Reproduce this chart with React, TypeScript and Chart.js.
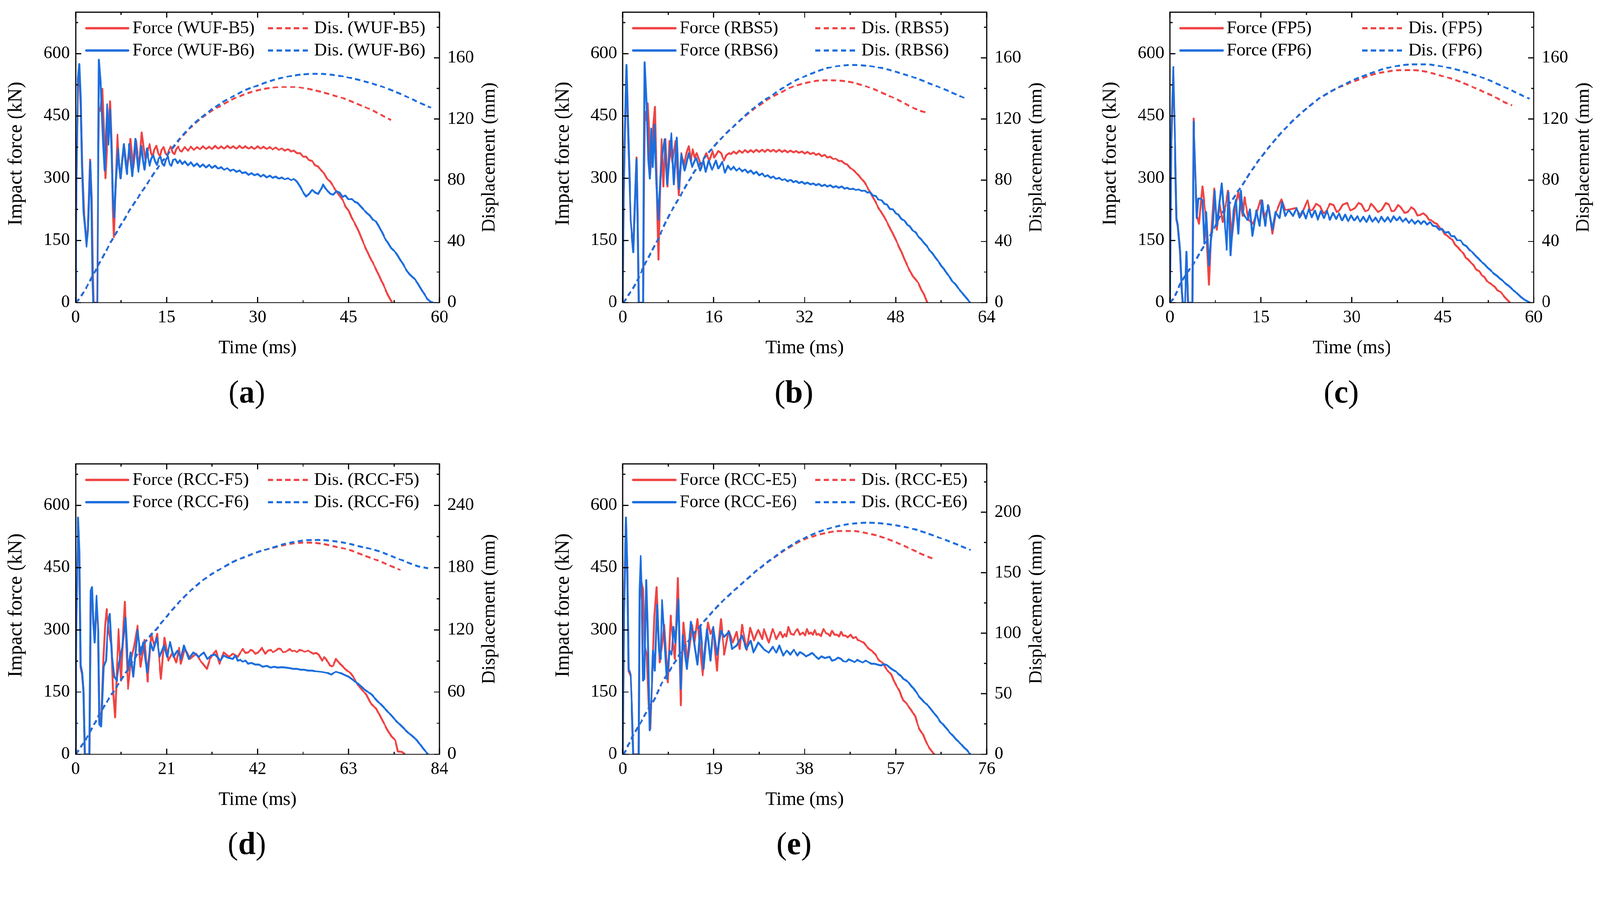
import { useEffect, useRef } from "react";
import { Chart, registerables } from "chart.js";

Chart.register(...registerables);

type Pt = [number, number];

const RED = "#f04444";
const BLUE = "#1c6edd";
const FONT = "'Liberation Serif', 'Times New Roman', serif";

// ---------- (a) WUF-B5 / WUF-B6 ----------
const forceWUFB5: Pt[] = [
  [0, 0], [0.15, 280], [0.4, 530], [0.6, 565], [0.85, 470], [1.1, 320], [1.4, 210], [1.8, 140], [2.1, 200],
  [2.4, 345], [2.65, 250], [2.85, 60], [2.95, 0], [3.55, 0], [3.7, 300], [3.85, 470], [4.1, 462], [4.4, 515],
  [4.65, 420], [4.9, 300], [5.2, 390], [5.45, 430], [5.7, 485], [5.95, 380], [6.15, 220], [6.3, 158], [6.5, 250],
  [6.9, 405], [7.15, 340], [7.4, 300], [7.7, 345], [8.0, 375], [8.25, 345], [8.5, 320], [8.8, 355], [9.05, 395],
  [9.3, 355], [9.5, 325], [9.75, 360], [9.95, 390], [10.2, 355], [10.45, 330], [10.7, 370], [10.9, 410], [11.2, 375],
  [11.5, 345], [11.85, 365], [12.2, 382], [12.45, 360], [12.7, 352], [13.0, 370], [13.3, 378], [13.6, 360], [13.9, 352],
  [14.2, 368], [14.5, 375], [14.8, 360], [15.1, 355], [15.4, 368], [15.7, 376], [16.0, 362], [16.3, 358], [16.6, 370],
  [16.9, 376], [17.2, 366], [17.5, 364], [18, 375], [18.5, 366], [19, 376], [19.5, 368], [20, 375], [20.5, 369],
  [21, 377], [21.5, 370], [22, 376], [22.5, 370], [23, 378], [23.5, 371], [24, 377], [24.5, 371], [25, 378],
  [25.5, 372], [26, 377], [26.5, 371], [27, 378], [27.5, 372], [28, 377], [28.5, 371], [29, 376], [29.5, 370],
  [30, 377], [30.5, 371], [31, 376], [31.5, 370], [32, 375], [32.5, 369], [33, 374], [33.5, 368], [34, 372],
  [34.5, 366], [35, 370], [35.5, 364], [36, 366], [36.5, 360], [37, 360], [37.5, 352], [38, 352], [38.5, 343],
  [39, 341], [39.5, 331], [40, 328], [40.5, 318], [41, 311], [41.5, 298], [42, 291], [42.5, 280], [43, 268],
  [43.5, 258], [44, 248], [44.5, 232], [45, 222], [45.5, 205], [46, 192], [46.5, 178], [47, 160], [47.5, 142],
  [48, 126], [48.5, 110], [49, 96], [49.5, 82], [50, 66], [50.5, 50], [51, 35], [51.5, 18], [52, 5], [52.2, 0],
];
const forceWUFB6: Pt[] = [
  [0, 0], [0.15, 300], [0.4, 540], [0.62, 575], [0.85, 490], [1.05, 330], [1.3, 218], [1.55, 180], [1.8, 135],
  [2.05, 175], [2.25, 260], [2.42, 340], [2.6, 250], [2.78, 60], [2.9, 0], [3.6, 0], [3.72, 300], [3.85, 585],
  [4.12, 533], [4.31, 464], [4.55, 380], [4.78, 318], [5.0, 400], [5.2, 478], [5.42, 381], [5.7, 465], [5.95, 360],
  [6.15, 250], [6.35, 205], [6.6, 290], [7.0, 372], [7.2, 330], [7.45, 300], [7.7, 345], [7.95, 382], [8.2, 340],
  [8.45, 310], [8.65, 350], [8.85, 382], [9.1, 340], [9.35, 305], [9.6, 350], [9.85, 395], [10.1, 350], [10.35, 315],
  [10.6, 345], [10.85, 378], [11.1, 345], [11.35, 320], [11.55, 345], [11.75, 372], [12.0, 345], [12.2, 330],
  [12.5, 348], [12.8, 355], [13.1, 340], [13.4, 332], [13.7, 348], [14.0, 352], [14.3, 335], [14.6, 330], [14.9, 345],
  [15.2, 352], [15.5, 334], [15.8, 330], [16.1, 344], [16.4, 346], [16.8, 336], [17.2, 343], [17.6, 334], [18, 340],
  [18.5, 331], [19, 338], [19.5, 329], [20, 335], [20.5, 327], [21, 333], [21.5, 326], [22, 332], [22.5, 325],
  [23, 330], [23.5, 323], [24, 327], [24.5, 320], [25, 324], [25.5, 317], [26, 321], [26.5, 315], [27, 318],
  [27.5, 312], [28, 314], [28.5, 308], [29, 312], [29.5, 307], [30, 310], [30.5, 304], [31, 308], [31.5, 302],
  [32, 306], [32.5, 301], [33, 304], [33.5, 299], [34, 302], [34.5, 297], [35, 300], [35.5, 295], [36, 298],
  [36.5, 291], [37, 280], [37.5, 266], [38, 256], [38.5, 262], [39, 272], [39.5, 265], [40, 262], [40.5, 275],
  [40.8, 285], [41.2, 276], [41.6, 268], [42, 262], [42.5, 260], [43, 268], [43.5, 265], [44, 255], [44.5, 258],
  [45, 249], [45.5, 250], [46, 243], [46.5, 240], [47, 232], [47.5, 224], [48, 216], [48.5, 210], [49, 200],
  [49.5, 196], [50, 184], [50.5, 170], [51, 155], [51.5, 144], [52, 132], [52.5, 125], [53, 116], [53.5, 104],
  [54, 92], [54.5, 80], [55, 69], [55.5, 62], [56, 56], [56.5, 44], [57, 32], [57.5, 20], [58, 9], [58.5, 3], [59, 0],
];
const disWUFB5: Pt[] = [
  [0, 0], [0.5, 2], [1.5, 8], [3, 19], [4.5, 30], [6, 41], [7.5, 51], [9, 61], [10.5, 70], [12, 79], [13.5, 88],
  [15, 96], [16.5, 103.5], [18, 110.5], [19.5, 116.5], [21, 121.5], [22.5, 125.5], [24, 129], [26, 133.2],
  [28, 136.5], [30, 138.8], [32, 140.3], [34, 141], [36, 141], [38, 140], [40, 138.3], [42, 136.2], [44, 133.8],
  [46, 130.7], [48, 127.4], [50, 123.6], [52, 119.3],
];
const disWUFB6: Pt[] = [
  [0, 0], [0.5, 2], [1.5, 8], [3, 19], [4.5, 30], [6, 41], [7.5, 51], [9, 61], [10.5, 70], [12, 79], [13.5, 88],
  [15, 96], [16.5, 104], [18, 111], [19.5, 117], [21, 122], [22.5, 126.5], [24, 130.5], [26, 135], [28, 139],
  [30, 142], [32, 144.8], [34, 147], [36, 148.6], [38, 149.5], [40, 149.7], [42, 149.2], [44, 148], [46, 146.3],
  [48, 144.3], [50, 142], [52, 139], [54, 135.8], [56, 132], [58.6, 127.5],
];

// ---------- (b) RBS5 / RBS6 ----------
const forceRBS5: Pt[] = [
  [0, 0], [0.15, 240], [0.33, 380], [0.65, 560], [1.0, 380], [1.4, 195], [1.86, 125], [2.1, 225], [2.42, 350],
  [2.6, 205], [2.8, 0], [3.6, 0], [3.75, 300], [3.9, 460], [4.1, 440], [4.37, 480], [4.6, 420], [4.85, 310],
  [5.1, 360], [5.35, 420], [5.67, 472], [5.9, 330], [6.1, 200], [6.27, 104], [6.5, 250], [6.83, 394], [7.16, 280],
  [7.5, 394], [7.85, 280], [8.2, 389], [8.7, 337], [9.3, 389], [9.85, 259], [10.3, 360], [10.8, 332], [11.2, 360],
  [11.6, 377], [12.0, 342], [12.3, 370], [12.65, 350], [13.0, 360], [13.4, 345], [13.8, 327], [14.2, 345],
  [14.7, 360], [15.2, 342], [15.8, 365], [16.1, 350], [16.4, 356], [16.8, 365], [17.3, 360], [17.8, 342],
  [18.2, 355], [18.7, 360], [19, 358], [19.5, 364], [20, 359], [20.5, 366], [21, 361], [21.5, 367], [22, 362],
  [22.5, 367], [23, 362], [23.5, 368], [24, 363], [24.5, 368], [25, 363], [25.5, 369], [26, 364], [26.5, 368],
  [27, 363], [27.5, 368], [28, 363], [28.5, 367], [29, 362], [29.5, 366], [30, 362], [30.5, 365], [31, 361],
  [31.5, 364], [32, 359], [32.5, 363], [33, 358], [33.5, 361], [34, 356], [34.5, 359], [35, 353], [35.5, 356],
  [36, 350], [36.5, 352], [37, 346], [37.5, 347], [38, 341], [38.5, 341], [39, 335], [39.5, 333], [40, 325],
  [40.5, 320], [41, 313], [41.5, 307], [42, 298], [42.5, 290], [43, 279], [43.5, 266], [44, 254], [44.5, 241],
  [45, 228], [45.5, 217], [46, 206], [46.5, 193], [47, 180], [47.5, 166], [48, 152], [48.5, 137], [49, 123],
  [49.5, 106], [50, 90], [50.5, 77], [51, 64], [51.5, 56], [52, 47], [52.5, 32], [53, 19], [53.4, 5], [53.6, 0],
];
const forceRBS6: Pt[] = [
  [0, 0], [0.15, 250], [0.33, 389], [0.65, 573], [1.0, 389], [1.4, 199], [1.86, 121], [2.1, 220], [2.42, 346],
  [2.6, 200], [2.8, 0], [3.6, 0], [3.7, 300], [3.85, 579], [4.2, 474], [4.5, 342], [4.74, 299], [5.0, 420],
  [5.3, 327], [5.58, 429], [5.9, 294], [6.25, 200], [6.6, 300], [7.0, 360], [7.4, 394], [7.8, 285], [8.2, 350],
  [8.55, 408], [9.0, 285], [9.5, 398], [9.85, 275], [10.3, 358], [10.9, 318], [11.6, 360], [12.2, 327], [12.9, 349],
  [13.6, 318], [14.2, 342], [14.6, 315], [15.1, 342], [15.7, 320], [16.4, 342], [16.8, 323], [17.5, 339],
  [18.0, 313], [18.5, 330], [19, 320], [19.5, 328], [20, 318], [20.5, 324], [21, 316], [21.5, 321], [22, 313],
  [22.5, 318], [23, 310], [23.5, 315], [24, 307], [24.5, 311], [25, 304], [25.5, 307], [26, 301], [26.5, 304],
  [27, 298], [27.5, 301], [28, 295], [28.5, 298], [29, 292], [29.5, 296], [30, 290], [30.5, 293], [31, 288],
  [31.5, 291], [32, 286], [32.5, 289], [33, 285], [33.5, 287], [34, 283], [34.5, 286], [35, 281], [35.5, 284],
  [36, 280], [36.5, 283], [37, 278], [37.5, 281], [38, 277], [38.5, 280], [39, 275], [39.5, 277], [40, 273],
  [40.5, 275], [41, 271], [41.5, 273], [42, 269], [42.5, 270], [43, 265], [43.5, 266], [44, 258], [44.5, 257],
  [45, 248], [45.5, 247], [46, 238], [46.5, 236], [47, 226], [47.5, 225], [48, 215], [48.5, 212], [49, 202],
  [49.5, 198], [50, 188], [50.5, 184], [51, 174], [51.5, 169], [52, 159], [52.5, 153], [53, 143], [53.5, 136],
  [54, 126], [54.5, 118], [55, 108], [55.5, 100], [56, 89], [56.5, 81], [57, 70], [57.5, 62], [58, 51], [58.5, 44],
  [59, 35], [59.5, 27], [60, 18], [60.5, 10], [61, 2], [61.2, 0],
];
const disRBS5: Pt[] = [
  [0, 0], [0.3, 1], [1, 5], [2, 10.5], [3, 18], [4, 26], [5, 33], [6, 40], [8, 56], [10, 69], [12, 82], [14, 93],
  [16, 102], [18, 110], [20, 117], [22, 123.5], [24, 129], [26, 134], [28, 137.8], [30, 141.4], [32, 143.5],
  [34, 145], [36, 145.4], [38, 145.2], [40, 144.3], [42, 142.4], [44, 139.8], [46, 136.6], [48, 133.3], [50, 129.5],
  [52, 125.8], [53.2, 124.5],
];
const disRBS6: Pt[] = [
  [0, 0], [0.3, 1], [1, 5], [2, 10.5], [3, 18], [4, 26], [5, 33], [6, 40], [8, 56], [10, 69], [12, 82], [14, 93],
  [16, 102], [18, 110], [20, 117], [22, 124], [24, 130], [26, 135], [28, 140], [30, 144.5], [32, 148], [34, 151],
  [36, 153.4], [38, 154.8], [40, 155.5], [42, 155.3], [44, 154.4], [46, 153], [48, 151], [50, 148.8], [52, 146.2],
  [54, 143.3], [56, 140.4], [58, 137.2], [60, 134], [60.6, 132.8],
];

// ---------- (c) FP5 / FP6 ----------
const forceFP5: Pt[] = [
  [0, 0], [0.2, 380], [0.57, 560], [0.78, 430], [1.09, 200], [1.3, 185], [1.66, 125], [1.96, 25], [2.1, 0],
  [2.5, 0], [2.75, 118], [3.0, 0], [3.7, 0], [3.9, 444], [4.15, 330], [4.45, 210], [4.8, 190], [5.1, 240],
  [5.36, 280], [5.8, 223], [6.1, 150], [6.45, 43], [6.75, 152], [7.3, 275], [7.76, 176], [8.2, 237], [8.7, 194],
  [9.6, 270], [10.2, 157], [10.7, 223], [11.3, 266], [12.0, 209], [12.3, 254], [13.0, 199], [13.7, 190],
  [14.3, 215], [14.95, 247], [15.5, 204], [16.3, 232], [16.9, 166], [17.4, 213], [18.4, 249], [19.0, 223],
  [19.8, 225], [20.7, 228], [21.6, 209], [22.2, 230], [22.7, 247], [23.1, 222], [23.5, 223], [24.1, 238],
  [24.8, 232], [25.3, 215], [25.7, 218], [26.4, 238], [27.0, 235], [27.5, 218], [27.9, 221], [28.5, 236],
  [29.2, 240], [29.8, 222], [30.5, 228], [31.1, 240], [31.6, 237], [32.2, 220], [32.7, 223], [33.2, 238],
  [33.6, 232], [34.3, 218], [34.9, 223], [35.6, 240], [36.1, 236], [36.6, 220], [37.0, 221], [37.6, 235],
  [38.1, 230], [38.7, 216], [39.2, 218], [39.8, 230], [40.3, 225], [40.8, 210], [41.2, 211], [41.8, 215],
  [42.3, 209], [42.7, 200], [43.1, 199], [43.6, 192], [44.0, 190], [44.5, 180], [44.9, 176], [45.3, 165],
  [45.75, 161], [46.2, 155], [46.6, 152], [47.0, 140], [47.5, 133], [48.0, 124], [48.4, 119], [48.8, 108],
  [49.2, 104], [49.7, 95], [50.1, 90], [50.5, 80], [51.0, 76], [51.4, 66], [51.85, 62], [52.3, 52], [52.7, 47],
  [53.2, 42], [53.6, 38], [54.0, 30], [54.5, 26], [55.0, 17], [55.3, 12], [55.7, 6], [56.1, 0],
];
const forceFP6: Pt[] = [
  [0, 0], [0.2, 389], [0.57, 568], [0.78, 436], [1.09, 204], [1.3, 187], [1.66, 128], [1.96, 28], [2.1, 0],
  [2.5, 0], [2.75, 123], [3.0, 0], [3.7, 0], [3.92, 436], [4.14, 342], [4.44, 204], [4.7, 251], [5.05, 251],
  [5.36, 247], [5.66, 142], [6.0, 218], [6.45, 90], [6.75, 150], [7.06, 185], [7.4, 270], [7.76, 185], [8.1, 230],
  [8.54, 287], [9.0, 200], [9.37, 128], [9.67, 266], [10.0, 114], [10.5, 223], [10.9, 249], [11.3, 166],
  [11.7, 270], [12.0, 218], [12.3, 209], [12.85, 199], [13.2, 225], [13.6, 161], [14.25, 223], [14.8, 185],
  [15.2, 247], [15.7, 185], [16.2, 235], [16.9, 176], [17.4, 218], [18.1, 204], [18.5, 242], [19.0, 209],
  [19.6, 223], [20.3, 209], [20.9, 228], [21.4, 205], [21.9, 222], [22.4, 203], [22.9, 225], [23.4, 206],
  [23.9, 222], [24.4, 200], [24.9, 220], [25.4, 204], [25.9, 221], [26.4, 200], [26.9, 216], [27.4, 202],
  [27.9, 215], [28.4, 198], [28.9, 212], [29.4, 196], [29.9, 210], [30.4, 198], [30.9, 208], [31.4, 195],
  [31.9, 207], [32.4, 194], [32.9, 210], [33.4, 195], [33.9, 205], [34.4, 193], [34.9, 207], [35.4, 195],
  [35.9, 206], [36.4, 194], [36.9, 208], [37.4, 198], [37.9, 207], [38.4, 195], [38.9, 203], [39.4, 192],
  [39.9, 200], [40.4, 190], [40.9, 198], [41.4, 189], [41.9, 197], [42.4, 188], [42.9, 194], [43.4, 185],
  [43.9, 184], [44.4, 176], [44.9, 178], [45.4, 168], [45.9, 170], [46.4, 160], [46.9, 160], [47.4, 150],
  [47.9, 150], [48.4, 140], [48.9, 136], [49.4, 127], [49.9, 121], [50.4, 113], [50.9, 106], [51.4, 98],
  [51.9, 92], [52.4, 84], [52.9, 78], [53.4, 70], [53.9, 65], [54.4, 58], [54.9, 53], [55.4, 45], [55.9, 40],
  [56.4, 33], [56.9, 27], [57.4, 20], [57.9, 13], [58.4, 8], [58.9, 4], [59.4, 0],
];
const disFP5: Pt[] = [
  [0, 0], [0.87, 4.5], [1.74, 12.5], [3.27, 22], [4.36, 28.3], [5.0, 33], [7.0, 46.4], [8.3, 56.7], [10.0, 65.7],
  [12.0, 77.3], [13.9, 88.9], [16.1, 100.5], [18.3, 110.8], [20.5, 119.8], [22.7, 127.5], [24.8, 134],
  [27.0, 139], [29.2, 143], [31.4, 146.2], [33.6, 149.4], [35.7, 151], [37.9, 152], [40.1, 152], [42.3, 151],
  [44.4, 148.8], [46.6, 146.2], [48.8, 143], [51.0, 139.1], [53.2, 135.3], [55.0, 131.4], [56.4, 129.1],
];
const disFP6: Pt[] = [
  [0, 0], [0.87, 4.5], [1.74, 12.5], [3.27, 22], [4.36, 28.3], [5.0, 33], [7.0, 46.4], [8.3, 56.7], [10.0, 65.7],
  [12.0, 77.3], [13.9, 88.9], [16.1, 100.5], [18.3, 110.8], [20.5, 119.8], [22.7, 127.5], [24.8, 134],
  [27.0, 139.1], [29.2, 143.6], [31.4, 147.5], [33.6, 150.7], [35.7, 153.3], [37.9, 155.1], [40.1, 155.9],
  [42.3, 155.9], [44.4, 154.8], [46.6, 153], [48.8, 150.7], [51.0, 147.9], [53.2, 144.5], [55.3, 140.7],
  [57.5, 136.6], [59.3, 133.3],
];

// ---------- (d) RCC-F5 / RCC-F6 ----------
const forceRCCF5: Pt[] = [
  [0, 0], [0.17, 290], [0.58, 560], [0.87, 480], [1.16, 210], [1.5, 192], [1.8, 150], [2.1, 0], [3.2, 0],
  [3.5, 380], [3.78, 395], [4.07, 315], [4.4, 275], [4.83, 370], [5.24, 290], [5.5, 80], [5.9, 75], [6.4, 230],
  [6.8, 310], [7.16, 350], [7.6, 300], [7.9, 285], [8.3, 260], [8.6, 160], [9.1, 89], [9.5, 200], [9.9, 302],
  [10.5, 178], [11.0, 300], [11.35, 367], [11.7, 260], [12.1, 158], [12.8, 230], [13.5, 260], [14.3, 310],
  [15.0, 211], [15.9, 276], [16.6, 175], [17.5, 290], [18.2, 260], [18.8, 290], [19.7, 182], [20.5, 281],
  [21.4, 226], [22.4, 245], [23.2, 221], [23.9, 257], [24.3, 218], [25.2, 254], [26.4, 230], [27.8, 242],
  [29.0, 223], [30.3, 206], [31.0, 230], [32.4, 250], [33.2, 218], [34.2, 245], [35.4, 235], [36.3, 242],
  [37.4, 235], [38.6, 254], [39.2, 244], [39.8, 245], [40.4, 252], [40.9, 250], [41.5, 242], [42.1, 245],
  [43.0, 257], [43.8, 242], [44.4, 250], [45.0, 252], [45.6, 246], [46.2, 250], [46.8, 255], [47.3, 254],
  [47.9, 246], [48.5, 247], [49.4, 254], [50.0, 248], [50.5, 250], [51.1, 246], [51.7, 252], [52.3, 250],
  [52.9, 247], [53.7, 250], [54.3, 245], [54.9, 242], [55.5, 244], [56.1, 240], [56.9, 226], [57.4, 234],
  [57.8, 230], [58.7, 214], [59.1, 212], [59.5, 214], [60.1, 230], [61.0, 218], [62.2, 206], [63.3, 197],
  [64.2, 185], [65.1, 168], [65.9, 158], [67.1, 144], [68.3, 120], [69.4, 110], [70.6, 86], [71.8, 62],
  [72.9, 43], [73.8, 34], [74.4, 7], [75.3, 6], [76.1, 0],
];
const forceRCCF6: Pt[] = [
  [0, 0], [0.17, 298], [0.58, 571], [0.87, 490], [1.16, 216], [1.5, 197], [1.8, 154], [2.1, 0], [3.2, 0],
  [3.5, 394], [3.78, 403], [4.07, 322], [4.37, 269], [4.83, 382], [5.24, 298], [5.5, 72], [5.9, 67], [6.46, 211],
  [7.0, 226], [7.45, 312], [7.9, 338], [8.4, 235], [8.9, 187], [9.5, 178], [10.07, 221], [10.8, 259], [11.5, 329],
  [12.1, 202], [12.7, 245], [13.3, 187], [14.3, 300], [15.0, 240], [15.6, 269], [16.5, 197], [17.3, 269],
  [17.9, 250], [18.7, 281], [19.4, 235], [20.4, 262], [21.1, 235], [21.8, 271], [22.6, 235], [23.5, 250],
  [24.3, 230], [25.0, 262], [26.1, 230], [27.2, 245], [28.4, 235], [29.6, 245], [30.4, 230], [31.3, 238],
  [32.2, 240], [33.4, 226], [34.2, 238], [35.1, 233], [36.3, 230], [36.9, 238], [37.4, 226], [38.0, 228],
  [38.6, 223], [39.2, 226], [39.8, 218], [40.6, 220], [41.5, 216], [42.3, 216], [43.2, 211], [44.1, 213],
  [45.0, 209], [45.8, 211], [46.7, 209], [47.6, 210], [48.5, 209], [49.3, 208], [50.2, 206], [51.1, 206],
  [52.0, 204], [52.8, 204], [53.7, 202], [54.6, 202], [55.5, 200], [56.3, 199], [57.2, 198], [58.1, 196],
  [59.0, 192], [59.6, 196], [60.1, 199], [61.0, 196], [61.9, 192], [63.0, 187], [64.2, 178], [65.4, 168],
  [66.5, 158], [68.3, 144], [70.0, 125], [71.8, 106], [73.5, 86], [75.3, 67], [77.0, 50], [78.8, 34],
  [80.2, 14], [81.4, 0],
];
const disRCCF5: Pt[] = [
  [0, 0], [0.2, 1], [1.3, 7.7], [2.5, 15.4], [4.25, 28.8], [6.0, 42.2], [7.7, 53.8], [10.1, 69.1], [13.0, 88.3],
  [15.9, 107.5], [18.8, 121.5], [21.7, 136.3], [24.6, 149.8], [27.5, 161.3], [30.4, 170.9], [33.4, 178.6],
  [36.3, 185.3], [39.2, 190.5], [42.1, 195], [45.0, 198.5], [47.9, 201.5], [50.8, 203.5], [53.7, 204],
  [56.6, 203.1], [59.5, 200.6], [62.5, 197.8], [65.4, 193.5], [68.3, 189.1], [71.2, 184.3], [75.0, 177.6],
];
const disRCCF6: Pt[] = [
  [0, 0], [0.2, 1], [1.3, 7.7], [2.5, 15.4], [4.25, 28.8], [6.0, 42.2], [7.7, 53.8], [10.1, 69.1], [13.0, 88.3],
  [15.9, 107.5], [18.8, 121.5], [21.7, 136.3], [24.6, 149.8], [27.5, 161.3], [30.4, 170.9], [33.4, 178.6],
  [36.3, 185.3], [39.2, 190.5], [42.1, 195], [45.0, 198.7], [47.9, 202.4], [50.8, 204.8], [53.7, 206.3],
  [56.6, 206.4], [59.5, 205.4], [62.5, 203.5], [65.4, 200.6], [68.3, 197.8], [71.2, 193.9], [74.1, 189.1],
  [77.0, 184.3], [79.3, 181], [81.4, 179.5],
];

// ---------- (e) RCC-E5 / RCC-E6 ----------
const forceRCCE5: Pt[] = [
  [0, 0], [0.28, 340], [0.66, 560], [0.94, 435], [1.2, 200], [1.66, 188], [1.93, 104], [2.2, 0], [3.3, 0],
  [3.5, 370], [3.8, 420], [4.25, 398], [4.6, 260], [5.0, 240], [5.4, 120], [5.8, 62], [6.2, 200], [6.6, 330],
  [7.06, 403], [7.4, 300], [7.7, 221], [8.2, 260], [8.66, 312], [9.0, 250], [9.4, 173], [10.0, 334], [10.5, 270],
  [10.9, 230], [11.2, 320], [11.5, 425], [11.8, 280], [12.1, 118], [12.4, 220], [12.7, 317], [13.5, 221],
  [14.5, 312], [15.0, 270], [15.6, 326], [16.1, 260], [16.7, 190], [17.2, 260], [17.8, 317], [18.3, 290],
  [18.9, 307], [19.3, 250], [19.7, 202], [20.1, 280], [20.5, 326], [21.2, 240], [22.1, 298], [23.0, 269],
  [23.8, 295], [24.4, 254], [24.9, 312], [25.9, 252], [26.6, 305], [27.4, 274], [28.3, 300], [29.1, 278],
  [29.5, 302], [30.5, 269], [31.3, 302], [32.1, 278], [32.9, 295], [33.4, 282], [33.8, 290], [34.2, 284],
  [34.6, 307], [35.1, 290], [35.7, 288], [36.1, 296], [36.5, 302], [37.0, 288], [37.6, 293], [38.1, 286],
  [38.5, 302], [38.9, 290], [39.3, 293], [39.7, 288], [40.1, 300], [40.5, 288], [40.9, 290], [41.4, 285],
  [41.9, 302], [42.4, 292], [42.9, 290], [43.3, 285], [43.7, 298], [44.2, 288], [44.8, 288], [45.2, 284],
  [45.6, 295], [46.0, 286], [46.5, 286], [47.0, 282], [47.6, 288], [48.1, 280], [48.7, 283], [49.1, 276],
  [49.5, 274], [49.9, 271], [50.3, 269], [50.8, 262], [51.2, 257], [51.6, 253], [52.0, 250], [52.4, 244],
  [52.8, 240], [53.2, 232], [53.6, 226], [54.1, 222], [54.5, 216], [54.9, 208], [55.3, 202], [55.7, 197],
  [56.1, 192], [56.6, 178], [57.0, 168], [57.4, 160], [57.8, 154], [58.2, 140], [58.6, 130], [59.0, 126],
  [59.4, 120], [59.9, 112], [60.3, 106], [60.7, 98], [61.1, 91], [61.5, 75], [61.9, 62], [62.3, 55], [62.7, 48],
  [63.2, 34], [63.6, 24], [64.0, 16], [64.4, 10], [64.8, 4], [65.1, 0],
];
const forceRCCE6: Pt[] = [
  [0, 0], [0.28, 346], [0.66, 571], [0.94, 442], [1.2, 206], [1.66, 192], [1.93, 106], [2.2, 0], [3.3, 0],
  [3.5, 394], [3.75, 478], [3.97, 394], [4.25, 178], [4.5, 182], [4.9, 420], [5.2, 298], [5.6, 58], [5.96, 130],
  [6.35, 250], [6.7, 202], [7.17, 360], [7.56, 250], [7.9, 230], [8.2, 372], [8.66, 288], [9.2, 182], [9.77, 250],
  [10.2, 240], [10.6, 307], [11.0, 269], [11.6, 374], [12.1, 158], [12.5, 288], [13.4, 206], [14.2, 319],
  [14.7, 288], [15.6, 216], [16.2, 307], [16.9, 206], [17.6, 302], [18.3, 226], [18.9, 307], [19.7, 240],
  [20.5, 298], [21.2, 283], [22.2, 295], [22.8, 254], [23.8, 262], [24.9, 286], [25.8, 254], [26.7, 274],
  [27.3, 245], [28.3, 269], [29.4, 254], [30.5, 245], [31.3, 259], [32.1, 245], [32.7, 262], [33.5, 238],
  [34.3, 250], [35.0, 240], [35.7, 252], [36.5, 238], [37.0, 246], [37.6, 242], [38.3, 236], [39.0, 240],
  [39.5, 244], [40.1, 238], [40.9, 230], [41.5, 236], [42.2, 232], [43.2, 235], [43.7, 226], [44.3, 228],
  [45.0, 233], [45.6, 230], [46.1, 224], [46.7, 223], [47.2, 229], [47.8, 226], [48.4, 222], [49.0, 228],
  [49.6, 224], [50.1, 221], [50.7, 226], [51.2, 223], [51.9, 218], [52.5, 218], [53.2, 216], [53.9, 214],
  [54.6, 217], [55.3, 214], [55.9, 208], [56.4, 204], [57.0, 200], [57.5, 194], [58.1, 189], [58.6, 182],
  [59.2, 178], [59.7, 173], [60.3, 164], [60.8, 158], [61.4, 148], [61.9, 139], [62.5, 132], [63.0, 125],
  [63.6, 119], [64.1, 113], [64.7, 104], [65.2, 96], [65.8, 88], [66.3, 79], [66.9, 72], [67.4, 65], [68.0, 57],
  [68.5, 50], [69.1, 43], [69.6, 36], [70.2, 30], [70.7, 24], [71.3, 16], [71.9, 10], [72.3, 4], [72.7, 0],
];
const disRCCE5: Pt[] = [
  [0, 0], [0.4, 1.6], [1.2, 8.2], [2.3, 16.5], [4.0, 28], [5.6, 39.5], [6.7, 46], [7.8, 56], [9.5, 67.5],
  [11.1, 77.4], [12.3, 85.6], [15.0, 100.4], [17.8, 113.6], [20.5, 125.1], [23.3, 135.5], [26.0, 145],
  [28.8, 154.3], [31.6, 162.5], [34.3, 169.8], [37.1, 176], [39.8, 180.2], [42.6, 183], [45.4, 184.4],
  [48.1, 184.4], [50.9, 182.7], [53.6, 180.2], [56.4, 176.1], [59.2, 171.5], [61.9, 166.3], [65.1, 161.3],
];
const disRCCE6: Pt[] = [
  [0, 0], [0.4, 1.6], [1.2, 8.2], [2.3, 16.5], [4.0, 28], [5.6, 39.5], [6.7, 46], [7.8, 56], [9.5, 67.5],
  [11.1, 77.4], [12.3, 85.6], [15.0, 100.4], [17.8, 113.6], [20.5, 125.1], [23.3, 135.5], [26.0, 145],
  [28.8, 154.5], [31.6, 162.8], [34.3, 170.5], [37.1, 177], [39.8, 182], [42.6, 186], [45.4, 189],
  [48.1, 190.6], [50.9, 191.3], [53.6, 190.9], [56.4, 189.6], [59.2, 187.7], [61.9, 184.7], [64.7, 181.1],
  [67.4, 177], [70.2, 172.8], [72.7, 168.7],
];

// ---------- axes ----------
const forceTicks = [0, 150, 300, 450, 600];
const FORCE_MAX = 700;

const timeTicksA = [0, 15, 30, 45, 60];
const timeTicksB = [0, 16, 32, 48, 64];
const timeTicksD = [0, 21, 42, 63, 84];
const timeTicksE = [0, 19, 38, 57, 76];

const disTicksABC = [0, 40, 80, 120, 160];
const disTicksD = [0, 60, 120, 180, 240];
const disTicksE = [0, 50, 100, 150, 200];

// ---------- layout (in picture pixels; the whole page is scaled to the viewport) ----------
const PAGE_W = 4252;
const PAGE_H = 2311;
const PLOT_W = 967;
const PLOT_H = 781;
const PAD_L = 200;
const PAD_R = 170;
const PAD_T = 40;
const PAD_B = 300;

interface PanelCfg {
  tag: string;
  left: number;
  top: number;
  xTicks: number[];
  dTicks: number[];
  dMax: number;
  names: [string, string];
  f5: Pt[];
  f6: Pt[];
  d5: Pt[];
  d6: Pt[];
}

const panels: PanelCfg[] = [
  { tag: "a", left: 201, top: 23, xTicks: timeTicksA, dTicks: disTicksABC, dMax: 190, names: ["WUF-B5", "WUF-B6"], f5: forceWUFB5, f6: forceWUFB6, d5: disWUFB5, d6: disWUFB6 },
  { tag: "b", left: 1655, top: 23, xTicks: timeTicksB, dTicks: disTicksABC, dMax: 190, names: ["RBS5", "RBS6"], f5: forceRBS5, f6: forceRBS6, d5: disRBS5, d6: disRBS6 },
  { tag: "c", left: 3109, top: 23, xTicks: timeTicksA, dTicks: disTicksABC, dMax: 190, names: ["FP5", "FP6"], f5: forceFP5, f6: forceFP6, d5: disFP5, d6: disFP6 },
  { tag: "d", left: 201, top: 1223, xTicks: timeTicksD, dTicks: disTicksD, dMax: 280, names: ["RCC-F5", "RCC-F6"], f5: forceRCCF5, f6: forceRCCF6, d5: disRCCF5, d6: disRCCF6 },
  { tag: "e", left: 1655, top: 1223, xTicks: timeTicksE, dTicks: disTicksE, dMax: 240, names: ["RCC-E5", "RCC-E6"], f5: forceRCCE5, f6: forceRCCE6, d5: disRCCE5, d6: disRCCE6 },
];

function minors(ticks: number[], max: number) {
  const step = ticks[1] - ticks[0];
  const out: number[] = [];
  for (const t of ticks) if (t + step / 2 < max) out.push(t + step / 2);
  return out;
}

const toXY = (pts: Pt[]) => pts.map(([x, y]) => ({ x, y }));

function Panel({ cfg, scale }: { cfg: PanelCfg; scale: number }) {
  const ref = useRef<HTMLCanvasElement | null>(null);

  useEffect(() => {
    if (!ref.current) return;
    const xMax = cfg.xTicks[cfg.xTicks.length - 1];

    const decor = {
      id: "decor",
      afterDraw(chart: any) {
        const { ctx, chartArea: a, scales } = chart;
        const x = scales.x, y = scales.y, y1 = scales.y1;
        ctx.save();
        ctx.strokeStyle = "#000";
        ctx.fillStyle = "#000";
        ctx.lineWidth = 3;
        ctx.lineCap = "butt";
        ctx.setLineDash([]);

        const seg = (x0: number, y0: number, x2: number, y2: number) => {
          ctx.beginPath();
          ctx.moveTo(x0, y0);
          ctx.lineTo(x2, y2);
          ctx.stroke();
        };
        const xTick = (v: number, len: number) => {
          const p = x.getPixelForValue(v);
          seg(p, a.bottom, p, a.bottom - len);
          seg(p, a.top, p, a.top + len);
        };
        cfg.xTicks.forEach((v) => xTick(v, 15));
        minors(cfg.xTicks, xMax).forEach((v) => xTick(v, 7));
        forceTicks.forEach((v) => { const p = y.getPixelForValue(v); seg(a.left, p, a.left + 15, p); });
        minors(forceTicks, FORCE_MAX).forEach((v) => { const p = y.getPixelForValue(v); seg(a.left, p, a.left + 7, p); });
        cfg.dTicks.forEach((v) => { const p = y1.getPixelForValue(v); seg(a.right, p, a.right - 15, p); });
        minors(cfg.dTicks, cfg.dMax).forEach((v) => { const p = y1.getPixelForValue(v); seg(a.right, p, a.right - 7, p); });
        ctx.strokeRect(a.left, a.top, a.right - a.left, a.bottom - a.top);

        // legend, 2 x 2
        const rows = [a.top + 43, a.top + 102];
        const cols = [a.left + 28, a.left + 511];
        const items = [
          { c: RED, dash: false, t: `Force (${cfg.names[0]})`, r: 0, k: 0 },
          { c: BLUE, dash: false, t: `Force (${cfg.names[1]})`, r: 1, k: 0 },
          { c: RED, dash: true, t: `Dis. (${cfg.names[0]})`, r: 0, k: 1 },
          { c: BLUE, dash: true, t: `Dis. (${cfg.names[1]})`, r: 1, k: 1 },
        ];
        ctx.font = `47px ${FONT}`;
        ctx.textBaseline = "middle";
        ctx.textAlign = "left";
        for (const it of items) {
          const lx = cols[it.k], ly = rows[it.r];
          ctx.strokeStyle = it.c;
          ctx.lineWidth = it.dash ? 5.5 : 6;
          ctx.lineCap = it.dash ? "butt" : "round";
          ctx.setLineDash(it.dash ? [14, 9] : []);
          seg(lx, ly, lx + 112, ly);
          ctx.setLineDash([]);
          ctx.fillStyle = "#000";
          ctx.fillText(it.t, lx + 123, ly);
        }

        // axis titles
        const cx = (a.left + a.right) / 2;
        const cy = (a.top + a.bottom) / 2;
        ctx.textAlign = "center";
        ctx.font = `50px ${FONT}`;
        ctx.fillText("Time (ms)", cx, a.bottom + 121);
        ctx.save();
        ctx.translate(a.left - 158, cy - 10);
        ctx.rotate(-Math.PI / 2);
        ctx.font = `53px ${FONT}`;
        ctx.fillText("Impact force (kN)", 0, 0);
        ctx.restore();
        ctx.save();
        ctx.translate(a.right + 133, cy);
        ctx.rotate(-Math.PI / 2);
        ctx.font = `50px ${FONT}`;
        ctx.fillText("Displacement (mm)", 0, 0);
        ctx.restore();

        // panel label, e.g. (a)
        const lx = a.left + 455, ly = a.bottom + 243;
        ctx.font = `84px ${FONT}`;
        const wp = ctx.measureText("(").width;
        const wc = ctx.measureText(")").width;
        ctx.font = `bold 84px ${FONT}`;
        const wl = ctx.measureText(cfg.tag).width;
        let sx = lx - (wp + wl + wc) / 2;
        ctx.textAlign = "left";
        ctx.font = `84px ${FONT}`;
        ctx.fillText("(", sx, ly);
        sx += wp;
        ctx.font = `bold 84px ${FONT}`;
        ctx.fillText(cfg.tag, sx, ly);
        sx += wl;
        ctx.font = `84px ${FONT}`;
        ctx.fillText(")", sx, ly);
        ctx.restore();
      },
    };

    const tickFont = { family: FONT, size: 47 };
    const solid = (pts: Pt[], color: string) => ({
      data: toXY(pts),
      borderColor: color,
      borderWidth: 5,
      pointRadius: 0,
      tension: 0,
      yAxisID: "y",
      borderJoinStyle: "round" as const,
    });
    const dashed = (pts: Pt[], color: string) => ({
      data: toXY(pts),
      borderColor: color,
      borderWidth: 5,
      borderDash: [14, 9],
      pointRadius: 0,
      cubicInterpolationMode: "monotone" as const,
      yAxisID: "y1",
    });

    const chart = new Chart(ref.current, {
      type: "line",
      data: {
        // first dataset is painted last (on top)
        datasets: [
          dashed(cfg.d6, BLUE),
          dashed(cfg.d5, RED),
          solid(cfg.f6, BLUE),
          solid(cfg.f5, RED),
        ],
      },
      plugins: [decor],
      options: {
        animation: false,
        responsive: false,
        devicePixelRatio: Math.max(1, scale * (window.devicePixelRatio || 1)),
        events: [],
        layout: { padding: { top: PAD_T, left: 0, right: 0, bottom: 0 } },
        plugins: { legend: { display: false }, tooltip: { enabled: false } },
        scales: {
          x: {
            type: "linear",
            min: 0,
            max: xMax,
            grid: { display: false, drawTicks: false },
            border: { display: false },
            ticks: { font: tickFont, color: "#000", padding: 11, autoSkip: false, maxRotation: 0 },
            afterBuildTicks: (s: any) => { s.ticks = cfg.xTicks.map((value) => ({ value })); },
            afterFit: (s: any) => { s.height = PAD_B; },
          },
          y: {
            type: "linear",
            position: "left",
            min: 0,
            max: FORCE_MAX,
            grid: { display: false, drawTicks: false },
            border: { display: false },
            ticks: { font: tickFont, color: "#000", padding: 15 },
            afterBuildTicks: (s: any) => { s.ticks = forceTicks.map((value) => ({ value })); },
            afterFit: (s: any) => { s.width = PAD_L; },
          },
          y1: {
            type: "linear",
            position: "right",
            min: 0,
            max: cfg.dMax,
            grid: { display: false, drawTicks: false },
            border: { display: false },
            ticks: { font: tickFont, color: "#000", padding: 21 },
            afterBuildTicks: (s: any) => { s.ticks = cfg.dTicks.map((value) => ({ value })); },
            afterFit: (s: any) => { s.width = PAD_R; },
          },
        },
      },
    } as any);

    return () => chart.destroy();
  }, [cfg, scale]);

  const w = PAD_L + PLOT_W + PAD_R;
  const h = PAD_T + PLOT_H + PAD_B;
  return (
    <canvas
      ref={ref}
      width={w}
      height={h}
      style={{ position: "absolute", left: cfg.left - PAD_L, top: cfg.top - PAD_T, width: w, height: h }}
    />
  );
}

export default function App() {
  // the picture is 4252 px wide; fit it to whatever CSS width the viewport really has
  const scale = typeof window !== "undefined" && window.innerWidth ? window.innerWidth / PAGE_W : 1;
  return (
    <div style={{ position: "fixed", left: 0, top: 0, right: 0, bottom: 0, overflow: "hidden", background: "#fff" }}>
      <div
        style={{
          position: "absolute",
          left: 0,
          top: 0,
          width: PAGE_W,
          height: PAGE_H,
          transform: `scale(${scale})`,
          transformOrigin: "0 0",
        }}
      >
        {panels.map((p) => (
          <Panel key={p.tag} cfg={p} scale={scale} />
        ))}
      </div>
    </div>
  );
}
